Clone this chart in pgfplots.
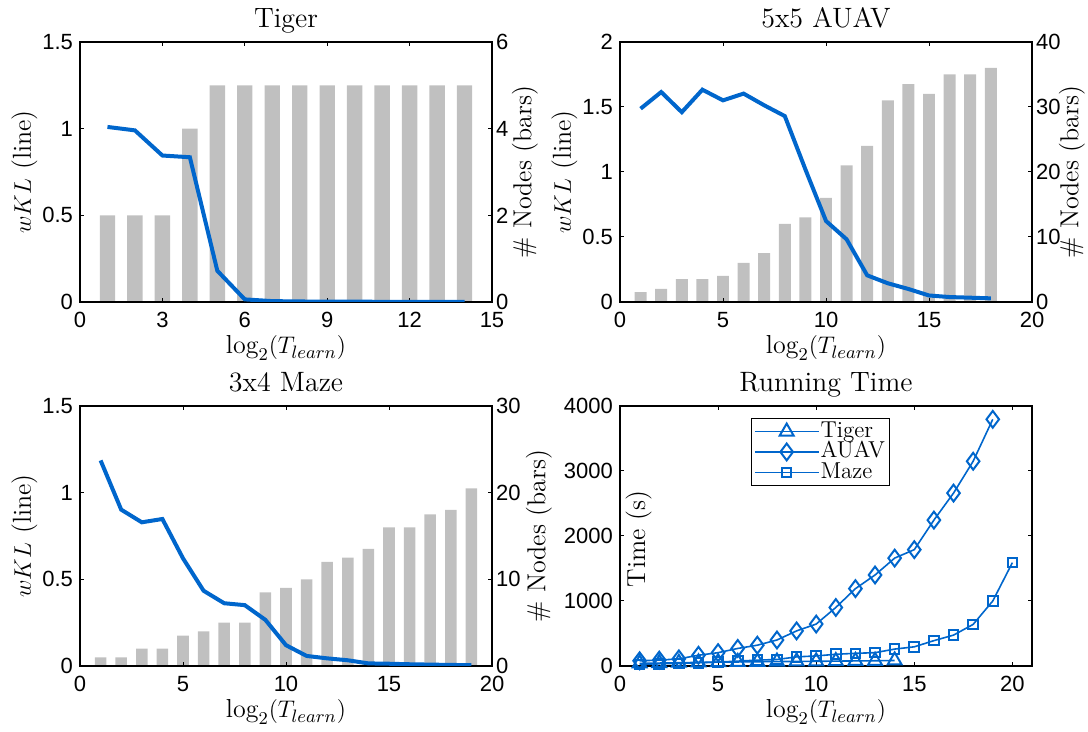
\documentclass[border=0pt]{standalone}
\usepackage{fontspec}
\setsansfont{Liberation Sans}
\usepackage{pgfplots}
\pgfplotsset{compat=1.18}
\definecolor{mblue}{RGB}{0,102,204}
\definecolor{mgray}{RGB}{192,192,192}
\pgfplotsset{
  base/.style={
    scale only axis, width=206pt, height=130pt,
    tick align=inside, major tick length=2pt,
    tick style={line width=0.5pt, black},
    tick label style={font=\fontsize{11}{13}\selectfont\sffamily},
    xticklabel style={yshift=-1.5pt},
    /pgf/number format/assume math mode=true,
    /pgf/number format/1000 sep={},
    label style={font=\fontsize{13}{15}\selectfont},
    every axis title/.style={at={(0.5,1)}, anchor=base, yshift=7pt,
      font=\fontsize{14}{16}\selectfont\addfontfeature{LetterSpace=12}},
    xlabel style={at={(axis description cs:0.5,0)}, anchor=base, yshift=-26pt},
    axis line style={line width=0.7pt},
  },
  leftax/.style={base, ytick pos=left,
    ylabel style={at={(axis description cs:0,0.5)}, anchor=center, yshift=27.75pt}},
  rightax/.style={base, axis x line=none, axis y line*=right,
    yticklabel style={xshift=-1.5pt},
    ylabel style={at={(axis description cs:1,0.5)}, anchor=center, yshift=-#1}},
  barplot/.style={ybar, bar width=0.56, fill=mgray, draw=none},
  kl/.style={mblue, line width=2pt},
}
\begin{document}
\begin{tikzpicture}
\path[use as bounding box] (0,0) rectangle (544pt,366pt);
% ---------------- Tiger ----------------
\begin{axis}[rightax=16.5pt, at={(40pt,215pt)}, anchor=south west,
  xmin=0, xmax=15, ymin=0, ymax=6, ytick={0,2,4,6}, ylabel={\# Nodes (bars)}]
\addplot[barplot] coordinates {(1,2)(2,2)(3,2)(4,4)(5,5)(6,5)(7,5)(8,5)(9,5)(10,5)(11,5)(12,5)(13,5)(14,5)};
\end{axis}
\begin{axis}[leftax, at={(40pt,215pt)}, anchor=south west,
  xmin=0, xmax=15, ymin=0, ymax=1.5, xtick={0,3,6,9,12,15}, ytick={0,0.5,1,1.5},
  title={Tiger}, xlabel={$\log_2(T_{learn})$}, ylabel={$wKL$ (line)}]
\addplot[kl] coordinates {(1,1.01)(2,0.99)(3,0.845)(4,0.835)(5,0.18)(6,0.015)(7,0.005)(8,0.003)(9,0.002)(10,0.002)(11,0.001)(12,0.001)(13,0.001)(14,0.001)};
\end{axis}
% ---------------- AUAV ----------------
\begin{axis}[rightax=20pt, at={(310pt,215pt)}, anchor=south west,
  xmin=0, xmax=20, ymin=0, ymax=40, ytick={0,10,20,30,40}, ylabel={\# Nodes (bars)}]
\addplot[barplot, bar width=0.58] coordinates {(1,1.5)(2,2)(3,3.5)(4,3.5)(5,4)(6,6)(7,7.5)(8,12)(9,13)(10,16)(11,21)(12,24)(13,31)(14,33.5)(15,32)(16,35)(17,35)(18,36)};
\end{axis}
\begin{axis}[leftax, at={(310pt,215pt)}, anchor=south west,
  xmin=0, xmax=20, ymin=0, ymax=2, xtick={0,5,10,15,20}, ytick={0,0.5,1,1.5,2},
  title={5x5 AUAV}, xlabel={$\log_2(T_{learn})$}, ylabel={$wKL$ (line)}]
\addplot[kl] coordinates {(1,1.487)(2,1.615)(3,1.46)(4,1.633)(5,1.551)(6,1.603)(7,1.513)(8,1.43)(9,1.02)(10,0.623)(11,0.482)(12,0.205)(13,0.144)(14,0.10)(15,0.05)(16,0.038)(17,0.033)(18,0.028)};
\end{axis}
% ---------------- Maze ----------------
\begin{axis}[rightax=23.5pt, at={(40pt,33pt)}, anchor=south west,
  xmin=0, xmax=20, ymin=0, ymax=30, ytick={0,10,20,30}, ylabel={\# Nodes (bars)}]
\addplot[barplot] coordinates {(1,1)(2,1)(3,2)(4,2)(5,3.5)(6,4)(7,5)(8,5)(9,8.5)(10,9)(11,10)(12,12)(13,12.5)(14,13.5)(15,16)(16,16)(17,17.5)(18,18)(19,20.5)};
\end{axis}
\begin{axis}[leftax, at={(40pt,33pt)}, anchor=south west,
  xmin=0, xmax=20, ymin=0, ymax=1.5, xtick={0,5,10,15,20}, ytick={0,0.5,1,1.5},
  title={3x4 Maze}, xlabel={$\log_2(T_{learn})$}, ylabel={$wKL$ (line)}]
\addplot[kl] coordinates {(1,1.186)(2,0.902)(3,0.829)(4,0.848)(5,0.621)(6,0.434)(7,0.362)(8,0.351)(9,0.266)(10,0.12)(11,0.058)(12,0.044)(13,0.033)(14,0.015)(15,0.013)(16,0.01)(17,0.008)(18,0.006)(19,0.005)};
\end{axis}
% ---------------- Running time ----------------
\begin{axis}[base, at={(310pt,33pt)}, anchor=south west,
  xmin=0, xmax=21, ymin=0, ymax=4000, xtick={0,5,10,15,20}, ytick={0,1000,2000,3000,4000},
  title={Running Time}, xlabel={$\log_2(T_{learn})$}, ylabel={Time (s)},
  ylabel style={at={(axis description cs:0.045,0.488)}, anchor=center},
  legend style={at={(axis description cs:0.317,0.954)}, anchor=north west,
    font=\fontsize{11.5}{12}\selectfont\addfontfeature{LetterSpace=10},
    draw=black, inner sep=1.5pt, row sep=0pt,
    nodes={inner sep=0.6pt, text height=7.4pt, text depth=1.6pt}},
  legend cell align=left,
  legend image code/.code={\draw[line width=0.8pt, mark repeat=2,mark phase=2] plot coordinates {(0cm,0cm) (0.56cm,0cm) (1.12cm,0cm)};},
  every axis plot/.append style={mblue, line width=0.8pt, mark options={solid, line width=1pt}}]
\addplot[mark=triangle, mark size=4pt] coordinates {(1,40)(2,45)(3,50)(4,55)(5,60)(6,62)(7,65)(8,68)(9,70)(10,72)(11,75)(12,78)(13,80)(14,85)};
\addlegendentry{Tiger}
\addplot[mark=diamond, mark size=4.2pt] coordinates {(1,80)(2,90)(3,110)(4,165)(5,205)(6,270)(7,320)(8,400)(9,540)(10,645)(11,900)(12,1190)(13,1400)(14,1660)(15,1790)(16,2245)(17,2660)(18,3150)(19,3795)};
\addlegendentry{AUAV}
\addplot[mark=square, mark size=2.4pt] coordinates {(1,25)(2,35)(3,40)(4,50)(5,60)(6,75)(7,90)(8,100)(9,140)(10,155)(11,180)(12,195)(13,205)(14,260)(15,295)(16,390)(17,475)(18,640)(19,1000)(20,1590)};
\addlegendentry{Maze}
\end{axis}
\end{tikzpicture}
\end{document}
